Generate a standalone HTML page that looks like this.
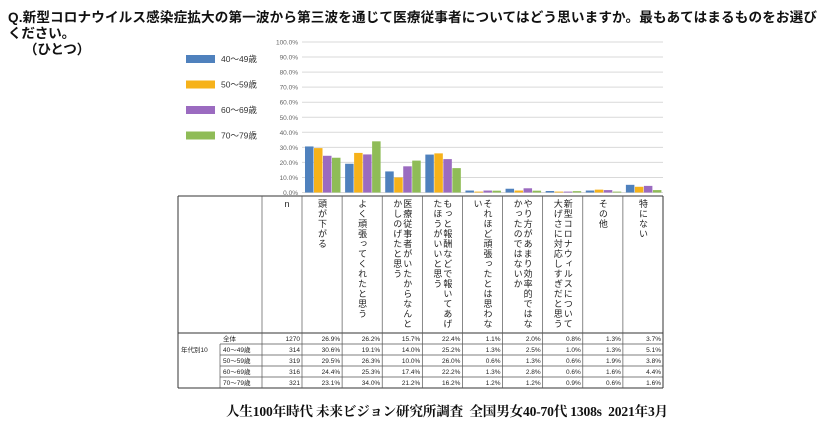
<!DOCTYPE html>
<html><head><meta charset="utf-8">
<style>
body{margin:0;width:840px;height:424px;background:#fff;position:relative;overflow:hidden;font-family:"Liberation Sans","Noto Sans CJK JP",sans-serif;}
.t{position:absolute;font-size:13.6px;color:#111;white-space:nowrap;letter-spacing:-0.2px;font-weight:bold}
.tick{font-size:6.5px;fill:#666}
.lg{font-size:8.5px;fill:#333}
.cell{font-size:6.5px;fill:#222}
.vt{position:absolute;writing-mode:vertical-rl;text-orientation:upright;font-size:9px;line-height:10px;color:#222;height:135px;letter-spacing:1px}
</style></head><body>
<div class="t" style="left:8px;top:6px;letter-spacing:0.13px">Q.新型コロナウイルス感染症拡大の第一波から第三波を通じて医療従事者についてはどう思いますか。最もあてはまるものをお選び</div>
<div class="t" style="left:8px;top:22px">ください。</div>
<div class="t" style="left:24px;top:38px">（ひとつ）</div>
<svg id="chart" width="840" height="424" style="position:absolute;left:0;top:0"></svg>
<div id="hdr"></div>
<div class="t" style="left:226px;top:400px;font-family:'Liberation Serif','Noto Serif CJK SC',serif;font-size:13.6px">人生100年時代 未来ビジョン研究所調査&nbsp; 全国男女40-70代 1308s&nbsp; 2021年3月</div>
<script>
const categories=["頭が下がる","よく頑張ってくれたと思う","医療従事者がいたからなんとかしのげたと思う","もっと報酬などで報いてあげたほうがいいと思う","それほど頑張ったとは思わない","やり方があまり効率的ではなかったのではないか","新型コロナウィルスについて大げさに対応しすぎだと思う","その他","特にない"];
const series=["40～49歳","50～59歳","60～69歳","70～79歳"];
const colors=["#4f81bd","#f6b21a","#9b6bc0","#8fbc57"];
const v40=[30.6,19.1,14.0,25.2,1.3,2.5,1.0,1.3,5.1];
const v50=[29.5,26.3,10.0,26.0,0.6,1.3,0.6,1.9,3.8];
const v60=[24.4,25.3,17.4,22.2,1.3,2.8,0.6,1.6,4.4];
const v70=[23.1,34.0,21.2,16.2,1.2,1.2,0.9,0.6,1.6];
const vAll=[26.9,26.2,15.7,22.4,1.1,2.0,0.8,1.3,3.7];
const nAll=1270;
const nGroups=[314,319,316,321];
const yTicks=[0,10,20,30,40,50,60,70,80,90,100];
const NS="http://www.w3.org/2000/svg";
const svg=document.getElementById('chart');
const x0=302,x1=663,yTop=42,yBot=192.5;
const cw=(x1-x0)/categories.length;
const y=v=>yBot-(v/100)*(yBot-yTop);
const xc=i=>x0+i*cw;
function mk(t,a){const e=document.createElementNS(NS,t);for(const k in a)e.setAttribute(k,a[k]);svg.appendChild(e);return e;}
yTicks.forEach(t=>{
  const g=mk('line',{x1:x0,x2:x1,y1:y(t),y2:y(t),stroke:'#d9d9d9','stroke-width':1});
  
  
  const l=mk('text',{x:x0-4,y:y(t)+2.5,'text-anchor':'end',class:'tick'});
  l.textContent=t.toFixed(1)+'%';
  
  
});
const all=[v40,v50,v60,v70];
const bw=8.5;
all.forEach((arr,s)=>{
  arr.forEach((v,i)=>{
    const r=mk('rect',{x:xc(i)+3+s*(bw+0.5),y:y(v),width:bw,height:yBot-y(v),fill:colors[s]});
    
    
  });
  const ly=59+s*25.5;
  const sw=mk('rect',{x:186,y:ly-4,width:29,height:8,fill:colors[s]});
  
  
  const lt=mk('text',{x:221,y:ly+3,class:'lg'});
  lt.textContent=series[s];
  
  
});
const tTop=196,hBot=333,rh=11,tL=178;
const rows=[["全体",nAll,vAll]].concat(series.map((s,k)=>[s,nGroups[k],all[k]]));
const tBot=hBot+rh*rows.length;
const colX=[tL,220,262].concat(categories.map((c,i)=>xc(i))).concat([x1]);
mk('line',{x1:tL,x2:x1,y1:tTop,y2:tTop,stroke:'#333','stroke-width':1});
mk('line',{x1:tL,x2:x1,y1:hBot,y2:hBot,stroke:'#333','stroke-width':1});
mk('line',{x1:tL,x2:x1,y1:tBot,y2:tBot,stroke:'#333','stroke-width':1});
for(let r=1;r<rows.length;r++){mk('line',{x1:220,x2:x1,y1:hBot+rh*r,y2:hBot+rh*r,stroke:'#555','stroke-width':0.7});}
mk('line',{x1:tL,x2:tL,y1:tTop,y2:tBot,stroke:'#333','stroke-width':1});
mk('line',{x1:x1,x2:x1,y1:tTop,y2:tBot,stroke:'#333','stroke-width':1});
colX.slice(1,-1).forEach((cx,k)=>{mk('line',{x1:cx,x2:cx,y1:k==0?hBot+rh:tTop,y2:tBot,stroke:'#555','stroke-width':0.7});});
const g0=mk('text',{x:181,y:hBot+rh+rh-3,class:'cell'});g0.textContent='年代別10';
rows.forEach((row,r)=>{
  const yy=hBot+rh*r+8;
  const a=mk('text',{x:223,y:yy,class:'cell'});a.textContent=row[0];
  
  
  const n=mk('text',{x:300,y:yy,class:'cell','text-anchor':'end'});n.textContent=row[1];
  
  
  row[2].forEach((v,i)=>{
    const c=mk('text',{x:xc(i+1)-2,y:yy,class:'cell','text-anchor':'end'});
    c.textContent=v.toFixed(1)+'%';
    
    
  });
});
const hdr=document.getElementById('hdr');
const nd=document.createElement('div');
nd.className='vt';nd.style.left='282px';nd.style.top='199px';nd.textContent='n';


hdr.appendChild(nd);
categories.forEach((c,i)=>{
  const d=document.createElement('div');
  d.className='vt';
  const len=[...c].length;
  d.style.left=(xc(i)+cw/2-(len>13?10:5))+'px';
  d.style.top='199px';
  d.textContent=c;
  
  
  hdr.appendChild(d);
});
</script>
</body></html>
